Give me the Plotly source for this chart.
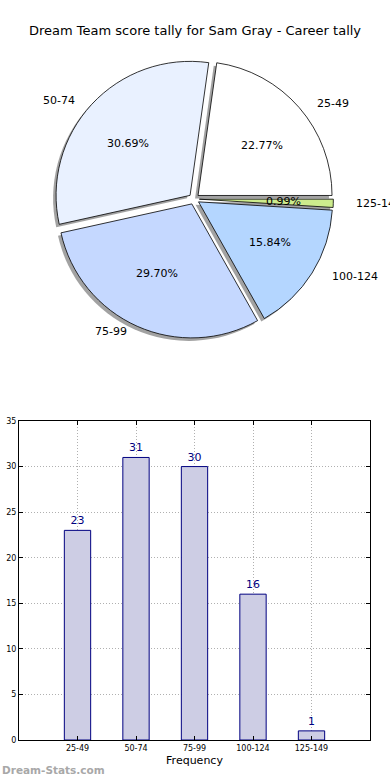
import math
import plotly.graph_objects as go

# ---- data ----
title_text = "Dream Team score tally for Sam Gray - Career tally"
ranges = ["25-49", "50-74", "75-99", "100-124", "125-149"]
counts = [23, 31, 30, 16, 1]
pie_colors = ["#ffffff", "#e9f1ff", "#c5d8ff", "#b4d6ff", "#cdec8d"]
y_ticks = [0, 5, 10, 15, 20, 25, 30, 35]
x_label = "Frequency"
y_label = "Occurrences"
watermark = "Dream-Stats.com"

W, H = 390, 780
FONT = "DejaVu Sans"

# pie geometry (pixels)
cx, cy = 194, 199
r = 134
pull = 0.04
half = r * (1 + pull)
total = sum(counts)
# first slice starts at 3 o'clock and runs counter-clockwise
start_rot = 90 - 360 * counts[0] / total


def dom(dx=0.0, dy=0.0):
    return dict(
        x=[(cx - half + dx) / W, (cx + half + dx) / W],
        y=[1 - (cy + half + dy) / H, 1 - (cy - half + dy) / H],
    )


fig = go.Figure()

# shadow pie
fig.add_trace(go.Pie(
    labels=ranges, values=counts, sort=False, direction="counterclockwise",
    rotation=start_rot, pull=[pull] * len(counts), domain=dom(-3, 3),
    marker=dict(colors=["rgba(70,70,70,0.5)"] * len(counts), line=dict(width=0)),
    textinfo="none", hoverinfo="skip", showlegend=False,
))
# main pie
fig.add_trace(go.Pie(
    labels=ranges, values=counts, sort=False, direction="counterclockwise",
    rotation=start_rot, pull=[pull] * len(counts), domain=dom(),
    marker=dict(colors=pie_colors, line=dict(color="black", width=0.8)),
    textinfo="none", showlegend=False,
))

# bar chart
fig.add_trace(go.Bar(
    x=ranges, y=counts, width=0.45,
    marker=dict(color="#cdcde4", line=dict(color="#000080", width=1)),
    text=counts, textposition="outside", cliponaxis=False,
    textfont=dict(color="#000080", size=11, family=FONT),
    showlegend=False,
))

annotations = []
# pie labels (computed from data, matplotlib-like placement on ellipse)
rx, ry = 141, 128
expl = 0.035
cum = 0
for lab, v in zip(ranges, counts):
    th = 2 * math.pi * (cum + v / 2) / total
    cum += v
    c, s = math.cos(th), math.sin(th)
    px = cx + (expl + 0.6) * rx * c
    py = cy - (expl + 0.6) * ry * s
    annotations.append(dict(
        x=px / W, y=1 - py / H, xref="paper", yref="paper", showarrow=False,
        text=f"{100 * v / total:.2f}%", xanchor="center", yanchor="middle",
        font=dict(family=FONT, size=11, color="black")))
    lx = cx + (expl + 1.1) * rx * c
    ly = cy - (expl + 1.1) * ry * s
    annotations.append(dict(
        x=lx / W, y=1 - ly / H, xref="paper", yref="paper", showarrow=False,
        text=lab, xanchor="left" if c > 0 else "right", yanchor="middle",
        font=dict(family=FONT, size=11, color="black")))

annotations.append(dict(
    x=3 / W, y=1 - 580 / H, xref="paper", yref="paper", showarrow=False,
    text=y_label, textangle=-90, xanchor="right", yanchor="middle",
    font=dict(family=FONT, size=11, color="black")))
annotations.append(dict(
    x=0, y=1 - 770 / H, xref="paper", yref="paper", showarrow=False,
    text=f"<b>{watermark}</b>", xanchor="left", yanchor="middle",
    font=dict(family=FONT, size=10.5, color="#a8a8a8")))

axis_common = dict(
    showline=True, linecolor="black", linewidth=1, mirror="allticks",
    ticks="inside", ticklen=4, tickcolor="black",
    showgrid=True, gridcolor="#b0b0b0", griddash="1px,2px", gridwidth=1,
    tickfont=dict(family=FONT, size=8, color="black"), zeroline=False,
)

fig.update_layout(
    width=W, height=H,
    margin=dict(l=0, r=0, t=0, b=0, autoexpand=False),
    paper_bgcolor="white", plot_bgcolor="white",
    title=dict(text=title_text, x=0.5, xanchor="center", y=1 - 30 / H, yanchor="middle",
               font=dict(family=FONT, size=13, color="black")),
    xaxis=dict(domain=[19 / W, 370 / W], type="category", categoryorder="array",
               categoryarray=ranges, range=[-1, 5],
               title=dict(text=x_label, standoff=4, font=dict(family=FONT, size=11, color="black")),
               **axis_common),
    yaxis=dict(domain=[1 - 740 / H, 1 - 421 / H], range=[0, 35], tickvals=y_ticks,
               **axis_common),
    annotations=annotations,
    font=dict(family=FONT),
)

fig.write_html("out.html", config={"displayModeBar": False},
               post_script="document.body.style.margin='0';")
